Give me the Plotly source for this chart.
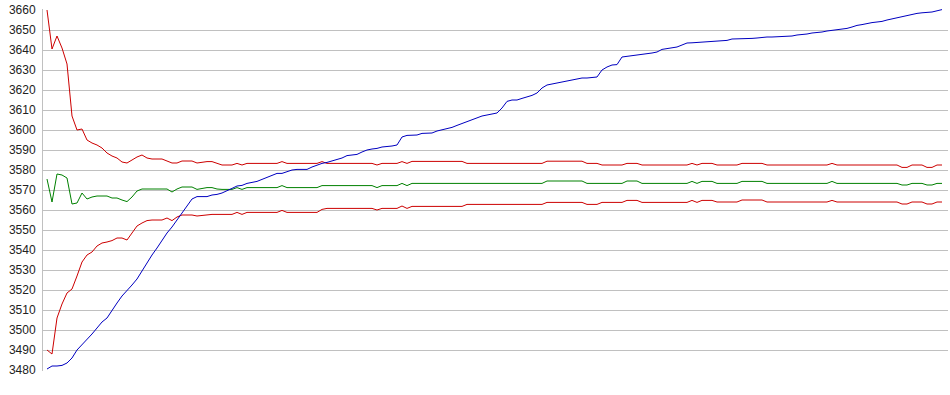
import plotly.graph_objects as go

# sample index (evenly spaced samples along the run)
sample = list(range(180))

upper = [
    3660, 3640.5, 3647, 3641, 3633, 3607, 3600, 3600.5, 3595, 3593.5,
    3592.5, 3591, 3588.5, 3587, 3586, 3584, 3583.5, 3585, 3586.5, 3587.5,
    3586, 3585.5, 3585.5, 3585.5, 3584.5, 3583.5, 3583.5, 3584.5, 3584.5, 3584.5,
    3583.5, 3584, 3584.2, 3584.2, 3583.5, 3582.5, 3582.5, 3582.5, 3583.3, 3582.5,
    3583.3, 3583.3, 3583.3, 3583.3, 3583.3, 3583.3, 3583.3, 3584.2, 3583.3, 3583.3,
    3583.3, 3583.3, 3583.3, 3583.3, 3583.3, 3584.2, 3583.3, 3583.3, 3583.3, 3583.3,
    3583.3, 3583.3, 3583.3, 3583.3, 3583.3, 3583.3, 3582.5, 3583.3, 3583.3, 3583.3,
    3583.3, 3584.2, 3583.3, 3584.3, 3584.3, 3584.3, 3584.3, 3584.3, 3584.3, 3584.3,
    3584.3, 3584.3, 3584.3, 3584.3, 3583.3, 3583.3, 3583.3, 3583.3, 3583.3, 3583.3,
    3583.3, 3583.3, 3583.3, 3583.3, 3583.3, 3583.3, 3583.3, 3583.3, 3583.3, 3583.3,
    3584.4, 3584.4, 3584.4, 3584.4, 3584.4, 3584.4, 3584.4, 3584.4, 3583.3, 3583.3,
    3583.3, 3582.5, 3582.5, 3582.5, 3582.5, 3582.5, 3583.3, 3583.3, 3583.3, 3582.5,
    3582.5, 3582.5, 3582.5, 3582.5, 3582.5, 3582.5, 3582.5, 3582.5, 3582.5, 3583.3,
    3582.5, 3583.3, 3583.3, 3583.3, 3582.5, 3582.5, 3582.5, 3582.5, 3582.5, 3583.3,
    3583.3, 3583.3, 3583.3, 3583.3, 3582.5, 3582.5, 3582.5, 3582.5, 3582.5, 3582.5,
    3582.5, 3582.5, 3582.5, 3582.5, 3582.5, 3582.5, 3582.5, 3583.3, 3582.5, 3582.5,
    3582.5, 3582.5, 3582.5, 3582.5, 3582.5, 3582.5, 3582.5, 3582.5, 3582.5, 3582.5,
    3582.5, 3581.3, 3581.3, 3582.5, 3582.5, 3582.5, 3581.3, 3581.3, 3582.5, 3582.5,
]

mean = [
    3575.5, 3564, 3578, 3577.5, 3576, 3563, 3563.5, 3568.5, 3565.5, 3566.5,
    3567, 3567, 3567, 3566, 3566, 3565, 3564.2, 3566.5, 3569.5, 3570.5,
    3570.5, 3570.5, 3570.5, 3570.5, 3570.5, 3569, 3570.5, 3571.5, 3571.5, 3571.5,
    3570.3, 3570.8, 3571.2, 3571.2, 3570.5, 3570.3, 3570.3, 3570.3, 3571.2, 3570.3,
    3571.2, 3571.2, 3571.2, 3571.2, 3571.2, 3571.2, 3571.2, 3572.2, 3571.2, 3571.2,
    3571.2, 3571.2, 3571.2, 3571.2, 3571.2, 3572.2, 3572.2, 3572.2, 3572.2, 3572.2,
    3572.2, 3572.2, 3572.2, 3572.2, 3572.2, 3572.2, 3571.2, 3572.2, 3572.2, 3572.2,
    3572.2, 3573.3, 3572.2, 3573.3, 3573.3, 3573.3, 3573.3, 3573.3, 3573.3, 3573.3,
    3573.3, 3573.3, 3573.3, 3573.3, 3573.3, 3573.3, 3573.3, 3573.3, 3573.3, 3573.3,
    3573.3, 3573.3, 3573.3, 3573.3, 3573.3, 3573.3, 3573.3, 3573.3, 3573.3, 3573.3,
    3574.5, 3574.5, 3574.5, 3574.5, 3574.5, 3574.5, 3574.5, 3574.5, 3573.3, 3573.3,
    3573.3, 3573.3, 3573.3, 3573.3, 3573.3, 3573.3, 3574.5, 3574.5, 3574.5, 3573.3,
    3573.3, 3573.3, 3573.3, 3573.3, 3573.3, 3573.3, 3573.3, 3573.3, 3573.3, 3574.3,
    3573.3, 3574.3, 3574.3, 3574.3, 3573.3, 3573.3, 3573.3, 3573.3, 3573.3, 3574.3,
    3574.3, 3574.3, 3574.3, 3574.3, 3573.3, 3573.3, 3573.3, 3573.3, 3573.3, 3573.3,
    3573.3, 3573.3, 3573.3, 3573.3, 3573.3, 3573.3, 3573.3, 3574.3, 3573.3, 3573.3,
    3573.3, 3573.3, 3573.3, 3573.3, 3573.3, 3573.3, 3573.3, 3573.3, 3573.3, 3573.3,
    3573.3, 3572.5, 3572.5, 3573.3, 3573.3, 3573.3, 3572.5, 3572.5, 3573.3, 3573.3,
]

lower = [
    3490, 3488, 3506, 3513, 3518.5, 3520.5, 3527, 3534, 3537.5, 3539,
    3542, 3543.5, 3544, 3544.7, 3546, 3546, 3545, 3548.5, 3552, 3553.5,
    3554.7, 3555, 3555, 3555, 3556, 3554.7, 3556.5, 3557.5, 3557.5, 3557.5,
    3557, 3557.3, 3557.8, 3557.8, 3557.8, 3557.8, 3557.8, 3557.8, 3558.8, 3557.8,
    3558.8, 3558.8, 3558.8, 3558.8, 3558.8, 3558.8, 3558.8, 3559.8, 3558.8, 3558.8,
    3558.8, 3558.8, 3558.8, 3558.8, 3558.8, 3560.3, 3560.8, 3560.8, 3560.8, 3560.8,
    3560.8, 3560.8, 3560.8, 3560.8, 3560.8, 3560.8, 3560, 3560.8, 3560.8, 3560.8,
    3560.8, 3562, 3560.8, 3561.8, 3561.8, 3561.8, 3561.8, 3561.8, 3561.8, 3561.8,
    3561.8, 3561.8, 3561.8, 3561.8, 3562.8, 3562.8, 3562.8, 3562.8, 3562.8, 3562.8,
    3562.8, 3562.8, 3562.8, 3562.8, 3562.8, 3562.8, 3562.8, 3562.8, 3562.8, 3562.8,
    3563.8, 3563.8, 3563.8, 3563.8, 3563.8, 3563.8, 3563.8, 3563.8, 3562.8, 3562.8,
    3562.8, 3563.8, 3563.8, 3563.8, 3563.8, 3563.8, 3564.8, 3564.8, 3564.8, 3563.8,
    3563.8, 3563.8, 3563.8, 3563.8, 3563.8, 3563.8, 3563.8, 3563.8, 3563.8, 3564.8,
    3563.8, 3564.8, 3564.8, 3564.8, 3564, 3564, 3564, 3564, 3564, 3565,
    3565, 3565, 3565, 3565, 3564, 3564, 3564, 3564, 3564, 3564,
    3564, 3564, 3564, 3564, 3564, 3564, 3564, 3564.8, 3564, 3564,
    3564, 3564, 3564, 3564, 3564, 3564, 3564, 3564, 3564, 3564,
    3564, 3563, 3563, 3564, 3564, 3564, 3563, 3563, 3564, 3564,
]

cumulative = [
    3480.5, 3482, 3482, 3482.3, 3483.5, 3486, 3490, 3492.5, 3495, 3498,
    3501, 3504, 3506, 3510, 3513.5, 3517, 3519.5, 3522.5, 3525.5, 3529.5,
    3534, 3537.5, 3541, 3545, 3548.5, 3551.5, 3555, 3558, 3562, 3565.5,
    3566.7, 3566.7, 3566.7, 3567.5, 3567.8, 3568.5, 3569.5, 3570.8, 3572, 3572.3,
    3573.3, 3573.8, 3574.3, 3575.3, 3576.3, 3577.5, 3578.3, 3578.3, 3579.2, 3580,
    3580.3, 3580.3, 3580.3, 3581.5, 3582.5, 3583.3, 3583.8, 3584.5, 3585, 3586,
    3587.2, 3587.5, 3587.8, 3589, 3590, 3590.5, 3590.8, 3591.5, 3591.7, 3592,
    3592.5, 3596.5, 3597.3, 3597.5, 3597.5, 3598.3, 3598.5, 3598.5, 3599.5, 3600,
    3600.5, 3601.3, 3602.3, 3603.3, 3604.3, 3605, 3606, 3607, 3607.5, 3608,
    3608.5, 3611, 3614.3, 3615, 3615, 3615.8, 3616.5, 3617.3, 3618.5, 3621,
    3622.5, 3623, 3623.5, 3624, 3624.5, 3625, 3625.5, 3626, 3626, 3626.3,
    3626.5, 3630, 3631.5, 3632.5, 3632.7, 3636.5, 3636.8, 3637.3, 3637.5, 3637.7,
    3638, 3638.5, 3639, 3640.3, 3640.7, 3641, 3641.5, 3642.5, 3643.5, 3643.6,
    3643.8, 3644, 3644.2, 3644.3, 3644.5, 3644.6, 3644.8, 3645.5, 3645.5, 3645.6,
    3645.7, 3645.8, 3646, 3646.3, 3646.5, 3646.5, 3646.6, 3646.7, 3646.8, 3647,
    3647.5, 3647.7, 3648, 3648.5, 3648.7, 3649, 3649.5, 3649.8, 3650, 3650.5,
    3650.8, 3651.5, 3652.3, 3652.7, 3653.3, 3653.7, 3654, 3654.3, 3655, 3655.6,
    3656.2, 3656.6, 3657.2, 3657.7, 3658.3, 3658.6, 3658.8, 3659, 3659.6, 3660.2,
]

y_ticks = list(range(3480, 3661, 10))

RED = "#cc0000"
GREEN = "#008000"
BLUE = "#0000c0"

fig = go.Figure()
fig.add_trace(go.Scatter(x=sample, y=upper, mode="lines", line=dict(color=RED, width=1)))
fig.add_trace(go.Scatter(x=sample, y=lower, mode="lines", line=dict(color=RED, width=1)))
fig.add_trace(go.Scatter(x=sample, y=mean, mode="lines", line=dict(color=GREEN, width=1)))
fig.add_trace(go.Scatter(x=sample, y=cumulative, mode="lines", line=dict(color=BLUE, width=1)))

fig.update_layout(
    width=950, height=395,
    margin=dict(l=43, r=2, t=9, b=24),
    paper_bgcolor="white", plot_bgcolor="white",
    showlegend=False,
    font=dict(family="Liberation Sans, Arial, sans-serif", size=12, color="#222222"),
    xaxis=dict(range=[-0.8, 180.2], showgrid=False, zeroline=False,
               showticklabels=False, showline=False, ticks="", automargin=False),
    yaxis=dict(range=[3479.5, 3660.5], tickvals=y_ticks,
               ticktext=[str(v) for v in y_ticks],
               showgrid=True, gridcolor="#c0c0c0", gridwidth=1,
               zeroline=False, showline=True, linecolor="#c0c0c0", linewidth=1,
               ticks="", ticklabelstandoff=4, automargin=False),
)

fig.write_html(
    "out.html",
    config={"displayModeBar": False},
    post_script="document.body.style.margin='0';document.body.style.overflow='hidden';",
)
